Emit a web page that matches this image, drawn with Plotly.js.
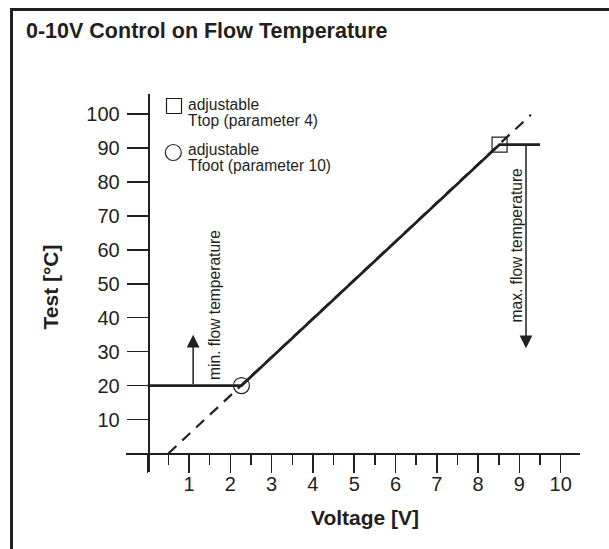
<!DOCTYPE html>
<html><head><meta charset="utf-8">
<script src="https://cdn.plot.ly/plotly-3.0.1.min.js"></script>
<style>
html,body{margin:0;padding:0;background:#fff;}
#wrap{position:relative;width:609px;height:549px;overflow:hidden;}
#chart{width:609px;height:549px;}
#frame{position:absolute;left:10px;top:7.5px;width:800px;height:800px;border-top:3px solid #231f20;border-left:3px solid #231f20;pointer-events:none;}
</style></head><body>
<div id="wrap"><div id="chart"></div><div id="frame"></div></div>
<script>
// ---- data ----
const curveX = [0, 2.27, 8.52, 9.5];
const curveY = [20, 20, 91, 91];
const extX = [0.5, 9.28];
const extY = [0, 99.8];
const tfootX = [2.27], tfootY = [20];
const ttopX = [8.52], ttopY = [91];
const minArrowX = 1.1, minArrowFrom = 20, minArrowTo = 35;
const maxArrowX = 9.16, maxArrowFrom = 91, maxArrowTo = 31;
const xTickVals = [0,1,2,3,4,5,6,7,8,9,10];
const xTickText = ['','1','2','3','4','5','6','7','8','9','10'];
const xMinorVals = [0.5,1.5,2.5,3.5,4.5,5.5,6.5,7.5,8.5,9.5];
const yTickVals = [10,20,30,40,50,60,70,80,90,100];
const yTickText = ['10','20','30','40','50','60','70','80','90','100'];
const titleText = '0-10V Control on Flow Temperature';
const xTitle = 'Voltage [V]';
const yTitle = 'Test [°C]';
const minLabel = 'min. flow temperature';
const maxLabel = 'max. flow temperature';
const topLine1 = 'adjustable', topLine2 = 'Ttop (parameter 4)';
const footLine1 = 'adjustable', footLine2 = 'Tfoot (parameter 10)';

// ---- layout geometry (pixels) ----
const C = '#231f20';
const FONT = '"Liberation Sans", Arial, Helvetica, sans-serif';
const P = {l:126, r:580, t:94, b:472};
const X0 = 147.7, XS = 41.3;   // px of x=0, px per unit
const Y0 = 453.5, YS = 3.395;  // px of y=0, px per unit
const px2x = px => (px - X0) / XS;
const py2y = py => (Y0 - py) / YS;
const pX = px => (px - P.l) / (P.r - P.l);
const pY = py => (P.b - py) / (P.b - P.t);

const traces = [
  {x: extX, y: extY, mode:'lines', line:{color:C, width:2.2, dash:'11px,8px'}, hoverinfo:'skip'},
  {x: curveX, y: curveY, mode:'lines', line:{color:C, width:2.8}, hoverinfo:'skip'},
  {x: tfootX, y: tfootY, mode:'markers', marker:{symbol:'circle-open', size:16, color:C, line:{width:1.2, color:C}}, hoverinfo:'skip'},
  {x: ttopX, y: ttopY, mode:'markers', marker:{symbol:'square-open', size:15, color:C, line:{width:1.2, color:C}}, hoverinfo:'skip'},
  {x: [px2x(174)], y: [py2y(106)], mode:'markers', marker:{symbol:'square-open', size:15, color:C, line:{width:1.2, color:C}}, hoverinfo:'skip'},
  {x: [px2x(173.3)], y: [py2y(152.5)], mode:'markers', marker:{symbol:'circle-open', size:16, color:C, line:{width:1.2, color:C}}, hoverinfo:'skip'}
];

const txt = (text, px, py, extra) => Object.assign({
  text: text, xref:'paper', yref:'paper', x: pX(px), y: pY(py),
  showarrow:false, xanchor:'left', yanchor:'middle',
  font:{family:FONT, size:15.6, color:C}
}, extra || {});

const annotations = [
  {xref:'x', yref:'y', axref:'x', ayref:'y', x:minArrowX, y:minArrowTo, ax:minArrowX, ay:minArrowFrom,
   text:'', showarrow:true, arrowhead:2, arrowsize:1.7, arrowwidth:1.5, arrowcolor:C, standoff:0, startstandoff:0},
  {xref:'x', yref:'y', axref:'x', ayref:'y', x:maxArrowX, y:maxArrowTo, ax:maxArrowX, ay:maxArrowFrom,
   text:'', showarrow:true, arrowhead:2, arrowsize:1.7, arrowwidth:1.5, arrowcolor:C, standoff:0, startstandoff:0},
  txt(topLine1, 186, 104),
  txt(topLine2, 186, 120.5),
  txt(footLine1, 186, 149),
  txt(footLine2, 186, 165.5),
  txt(minLabel, 214, 305, {xanchor:'center', textangle:-90}),
  txt(maxLabel, 515.5, 246, {xanchor:'center', textangle:-90}),
  txt('<b>' + xTitle + '</b>', 364.5, 517, {xanchor:'center', font:{family:FONT, size:21, color:C}}),
  txt('<b>' + yTitle + '</b>', 50, 287.5, {xanchor:'center', textangle:-90, font:{family:FONT, size:21, color:C}})
];

const layout = {
  width:609, height:549,
  margin:{l:P.l, r:609-P.r, t:P.t, b:549-P.b, pad:0},
  paper_bgcolor:'#fff', plot_bgcolor:'rgba(0,0,0,0)',
  showlegend:false,
  font:{family:FONT, color:C},
  title:{text:'<b>' + titleText + '</b>', font:{family:FONT, size:21.5, color:C},
         x:26/609, xanchor:'left', xref:'container', y:1-30/549, yanchor:'middle', yref:'container'},
  xaxis:{range:[px2x(P.l), px2x(P.r)], anchor:'free', position:(P.b - Y0)/(P.b - P.t),
         showgrid:false, zeroline:false, showline:true, linecolor:C, linewidth:2.6,
         tickmode:'array', tickvals:xTickVals, ticktext:xTickText, ticks:'outside', ticklen:18, tickwidth:1.5, tickcolor:C,
         tickfont:{family:FONT, size:20, color:C}, ticklabelstandoff:-6,
         minor:{tickmode:'array', tickvals:xMinorVals, ticks:'outside', ticklen:10, tickwidth:1.5, tickcolor:C, showgrid:false},
         fixedrange:true},
  yaxis:{range:[py2y(P.b), py2y(P.t)], anchor:'free', position:(X0 - P.l)/(P.r - P.l),
         showgrid:false, zeroline:false, showline:true, linecolor:C, linewidth:1.8,
         tickmode:'array', tickvals:yTickVals, ticktext:yTickText, ticks:'outside', ticklen:21, tickwidth:1.5, tickcolor:C,
         tickfont:{family:FONT, size:20, color:C}, ticklabelstandoff:3,
         fixedrange:true},
  annotations: annotations
};

Plotly.newPlot('chart', traces, layout, {displayModeBar:false, staticPlot:true});
</script>
</body></html>
